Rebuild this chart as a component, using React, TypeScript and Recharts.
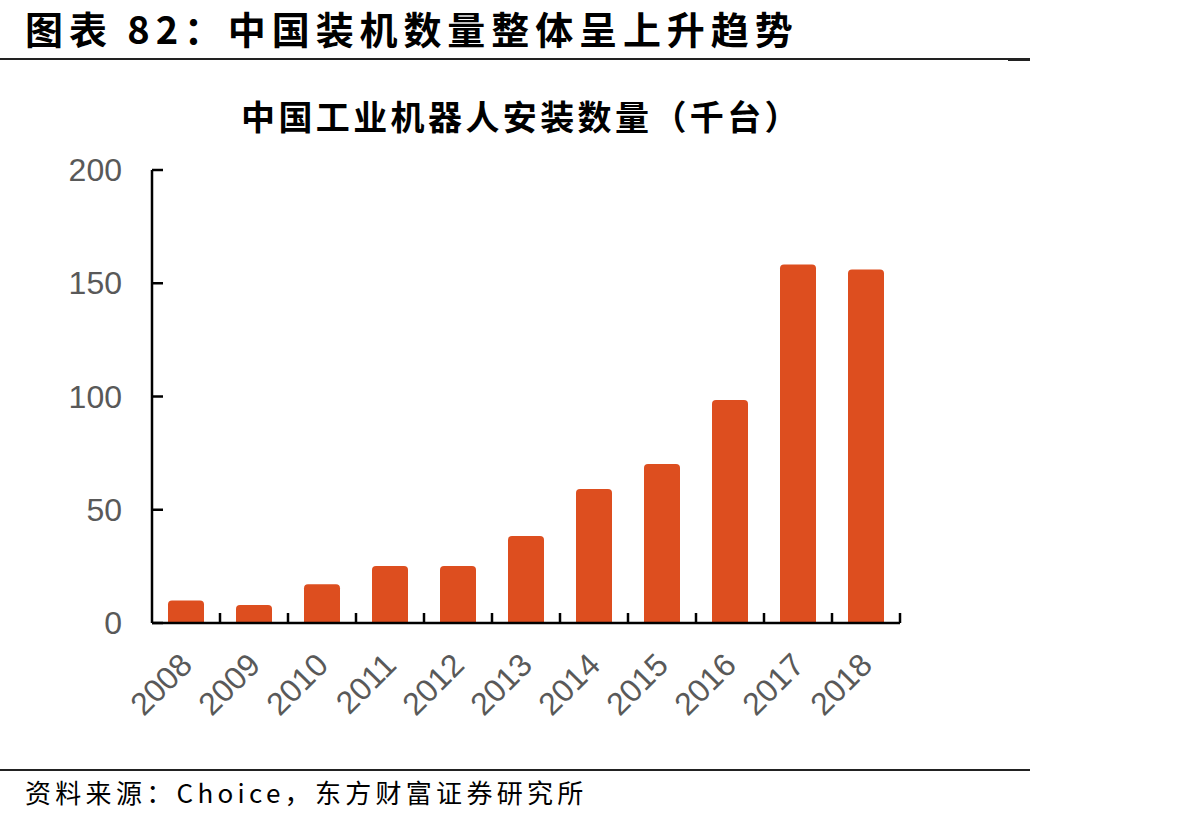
import { BarChart, Bar, XAxis, YAxis } from "recharts";

// 中国工业机器人安装数量（千台）
const years = ["2008", "2009", "2010", "2011", "2012", "2013", "2014", "2015", "2016", "2017", "2018"];
const installs = [9.9, 7.9, 17.1, 25.2, 25.2, 38.4, 59.2, 70.2, 98.5, 158.3, 156.1];
const yTicks = [0, 50, 100, 150, 200];

const data = years.map((year, i) => ({ year, installs: installs[i] }));

const CJK = '"Noto Sans CJK SC", "Noto Sans", sans-serif';
const NUM = '"Liberation Sans", Arial, sans-serif';
const LABEL = "#595959";
const BAR = "#DD4E1F";

const PLOT_W = 748;
const HALF_BAND = PLOT_W / years.length / 2;
const Y_GAP = 30;

function YTick(props: any) {
  const { x, y, payload } = props;
  const ax = x + Y_GAP;
  return (
    <g>
      <line x1={ax} x2={ax + 11} y1={y} y2={y} stroke="#000" strokeWidth={2.5} />
      <text x={x} y={y + 11} textAnchor="end" fontSize={32} fontFamily={NUM} fill={LABEL}>
        {payload.value}
      </text>
    </g>
  );
}

function XTick(props: any) {
  const { x, y, payload } = props;
  const bx = x + HALF_BAND;
  const tx = x + 8;
  const ty = y + 44;
  return (
    <g>
      <line x1={bx} x2={bx} y1={y} y2={y - 10} stroke="#000" strokeWidth={2.5} />
      <text
        x={tx}
        y={ty}
        textAnchor="end"
        fontSize={32}
        fontFamily={NUM}
        fill={LABEL}
        transform={`rotate(-45 ${tx} ${ty})`}
      >
        {payload.value}
      </text>
    </g>
  );
}

export default function App() {
  return (
    <div
      style={{
        position: "absolute",
        left: 0,
        top: 0,
        width: 1192,
        height: 823,
        background: "#fff",
      }}
    >
      <div style={{ position: "absolute", left: 0, top: 0 }}>
        <BarChart
          width={1192}
          height={823}
          data={data}
          margin={{ top: 170, right: 292, bottom: 100, left: 92 }}
          barSize={36}
        >
          <YAxis
            width={60}
            domain={[0, 200]}
            ticks={yTicks}
            interval={0}
            axisLine={{ stroke: "#000", strokeWidth: 2.5 }}
            tickLine={false}
            tickSize={0}
            tickMargin={Y_GAP}
            tick={<YTick />}
          />
          <Bar dataKey="installs" fill={BAR} radius={[4, 4, 0, 0]} isAnimationActive={false} />
          <XAxis
            dataKey="year"
            height={100}
            interval={0}
            axisLine={{ stroke: "#000", strokeWidth: 2.5 }}
            tickLine={false}
            tickSize={0}
            tickMargin={0}
            tick={<XTick />}
          />
        </BarChart>
      </div>

      <div
        style={{
          position: "absolute",
          left: 25,
          top: 0,
          fontFamily: CJK,
          fontWeight: 700,
          fontSize: 38,
          lineHeight: "56px",
          letterSpacing: 5.9,
          whiteSpace: "nowrap",
          color: "#000",
        }}
      >
        图表 82：中国装机数量整体呈上升趋势
      </div>
      <div style={{ position: "absolute", left: 0, top: 58, width: 1010, height: 2, background: "#222" }} />
      <div style={{ position: "absolute", left: 1008, top: 58, width: 22, height: 3, background: "#222" }} />

      <div
        style={{
          position: "absolute",
          left: 241,
          top: 94,
          fontFamily: CJK,
          fontWeight: 700,
          fontSize: 34,
          lineHeight: "44px",
          letterSpacing: 3.4,
          whiteSpace: "nowrap",
          color: "#000",
        }}
      >
        中国工业机器人安装数量（千台）
      </div>

      <div style={{ position: "absolute", left: 0, top: 769, width: 1030, height: 2, background: "#222" }} />
      <div
        style={{
          position: "absolute",
          left: 25,
          top: 776,
          fontFamily: CJK,
          fontSize: 26,
          lineHeight: "32px",
          letterSpacing: 4.3,
          whiteSpace: "nowrap",
          color: "#000",
        }}
      >
        资料来源：Choice，东方财富证券研究所
      </div>
    </div>
  );
}
